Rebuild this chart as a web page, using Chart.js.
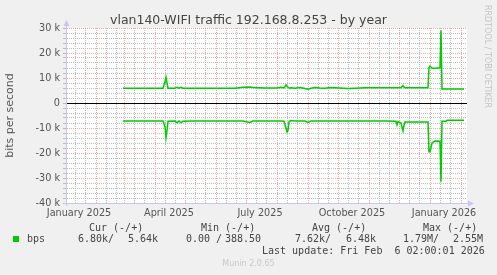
<!DOCTYPE html>
<html>
<head>
<meta charset="utf-8">
<script src="https://cdn.jsdelivr.net/npm/chart.js@4/dist/chart.umd.min.js"></script>
<style>
  html, body { margin: 0; padding: 0; background: #f0f0f0; }
  #wrap { position: relative; width: 497px; height: 275px; overflow: hidden; }
  #c { position: absolute; left: 0; top: 0; }
  .title { position: absolute; left: 0; width: 497px; top: 12px; text-align: center; font: 12.5px 'DejaVu Sans', sans-serif; line-height: 15px; color: #444; white-space: pre; }
  .t { position: absolute; font: 10px 'DejaVu Sans Mono', monospace; line-height: 10px; color: #444; white-space: pre; }
  .sq { position: absolute; left: 13px; top: 236px; width: 6px; height: 6px; background: #00cc00; }
  .wm { position: absolute; font: 8px 'DejaVu Sans', sans-serif; line-height: 8px; color: #c4c4c4; white-space: pre; }
  .rrd { left: 483px; top: 5px; writing-mode: vertical-rl; }
  .munin { left: 0; width: 497px; top: 260px; text-align: center; color: #c8c8c8; }
</style>
</head>
<body>
<div id="wrap">
  <canvas id="c" width="497" height="275"></canvas>
  <div class="title">vlan140-WIFI traffic 192.168.8.253 - by year</div>
  <div class="wm rrd">RRDTOOL / TOBI OETIKER</div>
  <div class="t" style="left:89px;top:223px">Cur (-/+)</div>
  <div class="t" style="left:201px;top:223px">Min (-/+)</div>
  <div class="t" style="left:312px;top:223px">Avg (-/+)</div>
  <div class="t" style="left:423px;top:223px">Max (-/+)</div>
  <div class="sq"></div>
  <div class="t" style="left:27px;top:234px">bps</div>
  <div class="t" style="left:78px;top:234px">6.80k/</div>
  <div class="t" style="left:128px;top:234px">5.64k</div>
  <div class="t" style="left:186px;top:234px">0.00 /</div>
  <div class="t" style="left:225px;top:234px">388.50</div>
  <div class="t" style="left:295px;top:234px">7.62k/</div>
  <div class="t" style="left:346px;top:234px">6.48k</div>
  <div class="t" style="left:403px;top:234px">1.79M/</div>
  <div class="t" style="left:453px;top:234px">2.55M</div>
  <div class="t" style="left:262px;top:246px">Last update: Fri Feb  6 02:00:01 2026</div>
  <div class="wm munin">Munin 2.0.65</div>
</div>
<script>
// days counted from 2025-01-01
const days = [58, 70, 85, 98, 100, 101, 102, 103, 110, 112, 114, 116, 118, 130, 150, 170,
  178, 185, 188, 200, 212, 216, 219, 221, 222, 223, 224, 226, 230, 235, 240, 243, 246,
  250, 255, 260, 265, 270, 283, 290, 300, 320, 331, 332, 333, 336, 338, 339, 340,
  352, 363, 364, 365, 367, 370, 375, 376, 377, 381, 382, 399];
// bits per second, "+" direction (drawn above zero)
const bpsOut = [5900, 5900, 5900, 5900, 8500, 10300, 8000, 5900, 5900, 6300, 5900, 6300, 5900, 5900, 5900, 5900,
  6300, 6400, 6200, 6000, 6000, 6300, 6000, 7200, 6800, 6300, 6000, 6100, 5900, 6200, 5800, 5500, 5900,
  6200, 6000, 5900, 6200, 6100, 5800, 5900, 6100, 6100, 6100, 6100, 6100, 6100, 7000, 6300, 6100,
  6100, 6100, 14300, 14800, 14000, 13900, 14100, 29000, 5600, 5600, 5600, 5600];
// bits per second, "-" direction (drawn below zero)
const bpsIn = [7200, 7200, 7200, 7200, 9500, 13900, 11000, 7300, 7200, 7900, 7200, 7900, 7300, 7200, 7200, 7200,
  7200, 7800, 7200, 7200, 7200, 7200, 7300, 10000, 11500, 11000, 7500, 7000, 7200, 7200, 7200, 7800, 7200,
  7200, 7200, 7200, 7200, 7200, 7200, 7200, 7200, 7200, 7300, 8700, 7400, 8000, 11100, 9000, 7600,
  7600, 7600, 19500, 19500, 16000, 15200, 15300, 31500, 7300, 7300, 6900, 6900];

const xLabels = ['January 2025', 'April 2025', 'July 2025', 'October 2025', 'January 2026'];
const xLabelDates = [[2025, 0, 15], [2025, 3, 15], [2025, 6, 15], [2025, 9, 15], [2026, 0, 15]];
const yTickLabels = ['30 k', '20 k', '10 k', '0', '-10 k', '-20 k', '-30 k', '-40 k'];
const yTickValues = [30000, 20000, 10000, 0, -10000, -20000, -30000, -40000];

const t0 = Date.UTC(2025, 0, 1);
const dayOf = (y, m, d) => Math.round((Date.UTC(y, m, d) - t0) / 86400000);
const xMin = 2, xMax = 402;

const majorDays = new Set();
const minorDays = new Set();
for (let m = 0; m < 15; m++) {
  majorDays.add(dayOf(2025, m, 1));
  minorDays.add(dayOf(2025, m, 11));
  minorDays.add(dayOf(2025, m, 21));
}
const labelByDay = new Map(xLabelDates.map((d, i) => [dayOf(d[0], d[1], d[2]), xLabels[i]]));

const majorRed = 'rgba(230,110,110,0.6)';
const minorGray = '#bdbdbd';
const axisColor = '#c6c6f2';

const munin = {
  id: 'munin',
  beforeDraw(chart) {
    const { ctx, chartArea: a } = chart;
    ctx.save();
    ctx.fillStyle = '#fff';
    ctx.fillRect(a.left, a.top, a.right - a.left, a.bottom - a.top);
    ctx.restore();
  },
  afterDatasetsDraw(chart) {
    const { ctx, chartArea: a, scales } = chart;
    const y0 = Math.round(scales.y.getPixelForValue(0)) + 0.5;
    ctx.save();
    ctx.lineWidth = 1;
    ctx.strokeStyle = '#000';
    ctx.beginPath();
    ctx.moveTo(a.left, y0);
    ctx.lineTo(a.right, y0);
    ctx.stroke();
    // axes with arrows
    const ax = a.left - 0.5, by = a.bottom + 0.5;
    ctx.strokeStyle = axisColor;
    ctx.fillStyle = axisColor;
    ctx.beginPath();
    ctx.moveTo(ax, a.bottom + 3);
    ctx.lineTo(ax, a.top - 4);
    ctx.moveTo(a.left - 3, by);
    ctx.lineTo(a.right + 3, by);
    ctx.stroke();
    ctx.beginPath();
    ctx.moveTo(ax - 3, a.top - 2);
    ctx.lineTo(ax + 3, a.top - 2);
    ctx.lineTo(ax, a.top - 8);
    ctx.closePath();
    ctx.fill();
    ctx.beginPath();
    ctx.moveTo(a.right + 1, by - 3);
    ctx.lineTo(a.right + 1, by + 3);
    ctx.lineTo(a.right + 7, by);
    ctx.closePath();
    ctx.fill();
    ctx.restore();
  }
};

new Chart(document.getElementById('c'), {
  type: 'line',
  data: {
    datasets: [
      { data: days.map((d, i) => ({ x: d, y: bpsOut[i] })) },
      { data: days.map((d, i) => ({ x: d, y: -bpsIn[i] })) }
    ]
  },
  options: {
    responsive: false,
    animation: false,
    devicePixelRatio: 1,
    layout: { padding: { left: 0, right: 30, top: 28, bottom: 0 } },
    elements: {
      line: { borderColor: '#00cc00', borderWidth: 1.5, tension: 0 },
      point: { radius: 0 }
    },
    plugins: {
      legend: { display: false },
      tooltip: { enabled: false }
    },
    scales: {
      x: {
        type: 'linear',
        min: xMin,
        max: xMax,
        afterBuildTicks: s => {
          const vals = [...majorDays, ...minorDays, ...labelByDay.keys()]
            .filter(v => v >= xMin && v <= xMax).sort((a, b) => a - b);
          s.ticks = vals.map(v => ({ value: v }));
        },
        afterFit: s => { s.height = 72; },
        ticks: {
          autoSkip: false,
          maxRotation: 0,
          padding: 5,
          color: '#555',
          font: { family: 'DejaVu Sans', size: 9.7 },
          callback: v => labelByDay.get(v) || ''
        },
        grid: {
          drawTicks: false,
          color: c => majorDays.has(c.tick.value) ? majorRed
            : minorDays.has(c.tick.value) ? minorGray : 'rgba(0,0,0,0)'
        },
        border: { display: false, dash: [1, 1] }
      },
      y: {
        min: -40000,
        max: 30000,
        afterFit: s => { s.width = 67; },
        ticks: {
          stepSize: 2000,
          autoSkip: false,
          padding: 3,
          color: '#555',
          font: { family: 'DejaVu Sans', size: 9.7 },
          callback: v => {
            const i = yTickValues.indexOf(v);
            return i >= 0 ? yTickLabels[i] : '';
          }
        },
        grid: {
          tickLength: 4,
          color: c => c.tick.value % 10000 === 0 ? majorRed : minorGray
        },
        border: { display: false, dash: [1, 1] },
        title: {
          display: true,
          text: 'bits per second',
          color: '#555',
          font: { family: 'DejaVu Sans', size: 11 },
          padding: { top: 3.4, bottom: 0 }
        }
      }
    }
  },
  plugins: [munin]
});
</script>
</body>
</html>
